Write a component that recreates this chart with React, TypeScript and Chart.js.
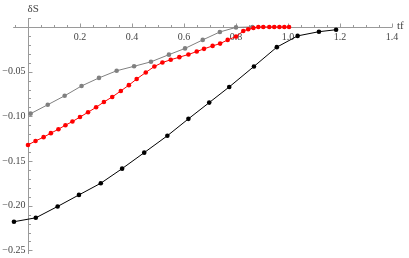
import { useEffect, useRef } from "react";
import { Chart, registerables } from "chart.js";
Chart.register(...registerables);

// Gray series
const grayX = [0.01, 0.076, 0.141, 0.206, 0.273, 0.341, 0.408, 0.473, 0.542, 0.604, 0.672, 0.738, 0.8, 0.863];
const grayY = [-0.097, -0.087, -0.077, -0.066, -0.057, -0.049, -0.044, -0.039, -0.031, -0.024, -0.0145, -0.0056, -0.0005, 0];

// Red series
const redX = [0, 0.029, 0.06, 0.088, 0.117, 0.144, 0.171, 0.2, 0.231, 0.262, 0.292, 0.324, 0.357, 0.388, 0.418, 0.453, 0.486, 0.517, 0.549, 0.582, 0.617, 0.649, 0.677, 0.71, 0.739, 0.768, 0.8, 0.828, 0.847, 0.867, 0.886, 0.905, 0.928, 0.947, 0.967, 0.986, 1.004];
const redY = [-0.132, -0.1275, -0.1233, -0.1188, -0.1144, -0.1099, -0.1058, -0.1008, -0.0954, -0.0899, -0.0839, -0.0783, -0.0716, -0.0651, -0.0582, -0.0509, -0.0442, -0.0398, -0.0367, -0.0338, -0.0308, -0.0275, -0.0245, -0.0212, -0.0186, -0.0145, -0.0108, -0.0045, -0.0026, -0.0011, 0, 0, 0, 0, 0, 0, 0];

// Black series
const blackX = [-0.054, 0.03, 0.114, 0.196, 0.28, 0.362, 0.447, 0.536, 0.617, 0.697, 0.774, 0.869, 0.957, 1.037, 1.119, 1.185];
const blackY = [-0.2179, -0.2135, -0.2008, -0.1879, -0.1748, -0.1585, -0.1406, -0.1217, -0.1028, -0.0846, -0.0671, -0.0442, -0.0226, -0.01, -0.0053, -0.0031];

// Axis ticks
const xTickValues = [0.2, 0.4, 0.6, 0.8, 1.0, 1.2, 1.4];
const xTickLabels = ["0.2", "0.4", "0.6", "0.8", "1.0", "1.2", "1.4"];
const yTickValues = [-0.05, -0.1, -0.15, -0.2, -0.25];
const yTickLabels = ["\u22120.05", "\u22120.10", "\u22120.15", "\u22120.20", "\u22120.25"];
const xAxisTitle = "tf";
const yAxisTitle = "\u03b4S";

const X_MIN = -0.057, X_MAX = 1.4, Y_MIN = -0.254, Y_MAX = 0.01;

const toPts = (xs: number[], ys: number[]) => xs.map((x, i) => ({ x, y: ys[i] }));

const axesPlugin = {
  id: "mathAxes",
  beforeDatasetsDraw(chart: any) {
    const ctx = chart.ctx;
    const xs = chart.scales.x;
    const ys = chart.scales.y;
    const px = (v: number) => xs.getPixelForValue(v);
    const py = (v: number) => ys.getPixelForValue(v);
    const x0 = Math.round(px(0)) + 0.5;
    const y0 = Math.round(py(0)) + 0.5;
    ctx.save();
    ctx.strokeStyle = "#9a9a9a";
    ctx.lineWidth = 1;
    ctx.beginPath();
    ctx.moveTo(px(X_MIN), y0);
    ctx.lineTo(px(X_MAX), y0);
    ctx.moveTo(x0, py(Y_MAX));
    ctx.lineTo(x0, py(Y_MIN));
    // x ticks
    for (let i = -1; i <= 28; i++) {
      if (i === 0) continue;
      const v = i * 0.05;
      const major = i % 4 === 0;
      const p = Math.round(px(v)) + 0.5;
      ctx.moveTo(p, y0);
      ctx.lineTo(p, y0 - (major ? 4 : 2.5));
    }
    // y ticks
    for (let i = 1; i >= -25; i--) {
      if (i === 0) continue;
      const v = i * 0.01;
      const major = i % 5 === 0;
      const p = Math.round(py(v)) + 0.5;
      ctx.moveTo(x0, p);
      ctx.lineTo(x0 + (major ? 4 : 2.5), p);
    }
    ctx.stroke();

    ctx.fillStyle = "#444";
    ctx.font = '10px "Liberation Serif"';
    ctx.textAlign = "center";
    ctx.textBaseline = "middle";
    xTickValues.forEach((v, i) => ctx.fillText(xTickLabels[i], px(v), y0 + 10));
    ctx.textAlign = "right";
    yTickValues.forEach((v, i) => ctx.fillText(yTickLabels[i], x0 - 3, py(v)));
    ctx.font = '11px "Liberation Serif"';
    ctx.textAlign = "left";
    ctx.fillText(xAxisTitle, px(X_MAX) + 5, y0 - 1);
    ctx.fillText(yAxisTitle, x0 - 1, 9);
    ctx.restore();
  },
};

export default function App() {
  const ref = useRef<HTMLCanvasElement>(null);
  useEffect(() => {
    if (!ref.current) return;
    const mk = (label: string, xs: number[], ys: number[], color: string, order: number, r: number) => ({
      label,
      data: toPts(xs, ys),
      borderColor: color,
      backgroundColor: color,
      borderWidth: 1,
      pointRadius: r,
      pointBorderWidth: 0,
      pointBackgroundColor: color,
      tension: 0,
      clip: false as any,
      order,
    });
    const chart = new Chart(ref.current, {
      type: "line",
      data: {
        datasets: [
          mk("black", blackX, blackY, "#000000", 0, 2.3),
          mk("red", redX, redY, "#ff0000", 1, 2.3),
          mk("gray", grayX, grayY, "#808080", 2, 2.3),
        ],
      },
      options: {
        animation: false,
        responsive: false,
        maintainAspectRatio: false,
        layout: { padding: { left: 13.18, right: 17, top: 18.02, bottom: 2.9 } },
        plugins: { legend: { display: false }, tooltip: { enabled: false } },
        scales: {
          x: { type: "linear", min: X_MIN, max: X_MAX, display: false },
          y: { type: "linear", min: Y_MIN, max: Y_MAX, display: false },
        },
      },
      plugins: [axesPlugin],
    });
    return () => chart.destroy();
  }, []);
  return (
    <div style={{ position: "fixed", left: 0, top: 0, width: 409, height: 258, background: "#fff" }}>
      <canvas ref={ref} width={409} height={258} style={{ width: 409, height: 258, display: "block" }} />
    </div>
  );
}
